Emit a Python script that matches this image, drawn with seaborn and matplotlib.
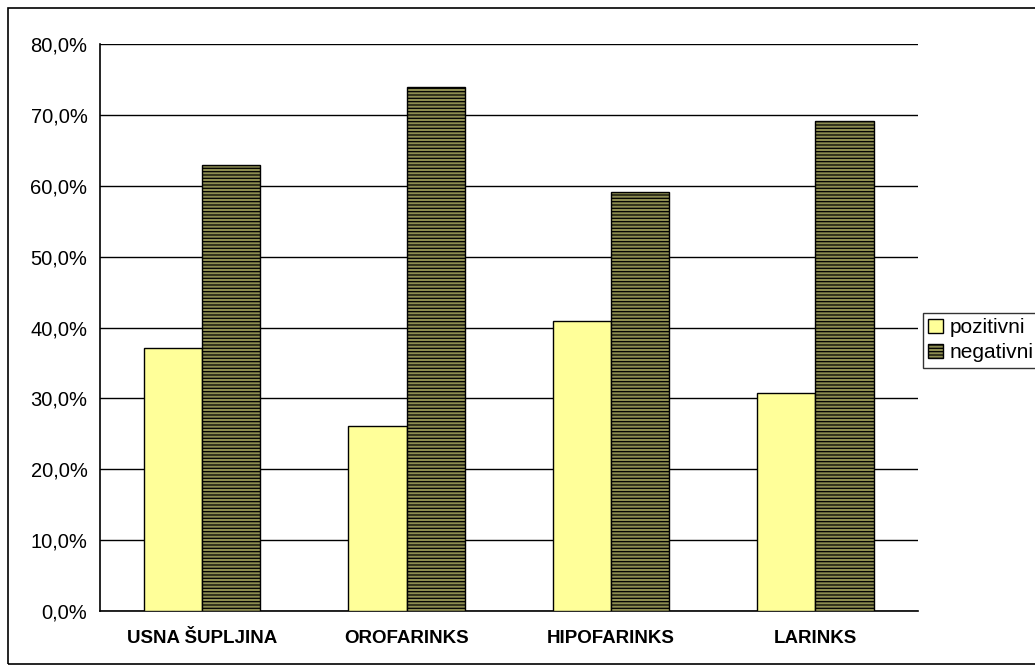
"""Pozitivni / negativni po lokalizaciji - bar chart."""
import pandas as pd
import seaborn as sns
import matplotlib.pyplot as plt
from matplotlib.patches import Rectangle, Patch
from matplotlib.ticker import FuncFormatter, FixedLocator

categories = ['USNA ŠUPLJINA', 'OROFARINKS', 'HIPOFARINKS', 'LARINKS']
series = ['pozitivni', 'negativni']
pozitivni = [37.1, 26.1, 40.9, 30.8]
negativni = [62.9, 73.9, 59.1, 69.2]

df = pd.DataFrame({
    'kategorija': categories * 2,
    'serija': [series[0]] * 4 + [series[1]] * 4,
    'vrijednost': pozitivni + negativni,
})

sns.set_style('white')
plt.rcParams['font.family'] = ['Liberation Sans', 'DejaVu Sans']
plt.rcParams['text.color'] = 'black'
plt.rcParams['xtick.color'] = 'black'
plt.rcParams['ytick.color'] = 'black'
plt.rcParams['hatch.linewidth'] = 0.9
plt.rcParams['hatch.color'] = 'black'

fig = plt.figure(figsize=(10.35, 6.7), dpi=100)
ax = fig.add_axes([0.0966, 0.088, 0.790, 0.846])

colors = {'pozitivni': '#FFFF99', 'negativni': '#8C8C50'}
sns.barplot(data=df, x='kategorija', y='vrijednost', hue='serija',
            palette=colors, width=0.57, edgecolor='black', linewidth=1.0,
            saturation=1, legend=False, ax=ax, zorder=3)

for bar in ax.containers[1]:
    bar.set_hatch('-----')

ax.set_ylim(0, 80)
ax.set_xlim(-0.5, 3.5)
ax.set_yticks(range(0, 81, 10))
ax.yaxis.set_major_formatter(FuncFormatter(lambda v, p: f'{v:.1f}%'.replace('.', ',')))
ax.grid(axis='y', color='black', linewidth=1.0, zorder=0)
ax.set_axisbelow(True)
ax.set_xlabel('')
ax.set_ylabel('')

# tick marks between categories
ax.xaxis.set_minor_locator(FixedLocator([0.5, 1.5, 2.5, 3.5]))
ax.tick_params(axis='x', which='major', length=0, pad=14, labelsize=13.5, labelcolor='black')
ax.tick_params(axis='x', which='minor', length=6, width=1, color='black', direction='out')
ax.tick_params(axis='y', length=6, width=1, color='black', direction='out',
               labelsize=14.5, pad=3, labelcolor='black')
for lbl in ax.get_xticklabels():
    lbl.set_fontweight('bold')

for s in ['top', 'right']:
    ax.spines[s].set_visible(False)
for s in ['left', 'bottom']:
    ax.spines[s].set_color('black')
    ax.spines[s].set_linewidth(1.2)

handles = [Patch(facecolor=colors['pozitivni'], edgecolor='black', label='pozitivni'),
           Patch(facecolor=colors['negativni'], edgecolor='black', hatch='-----', label='negativni')]
leg = fig.legend(handles=handles, loc='upper left', bbox_to_anchor=(0.892, 0.533),
                 fontsize=15, frameon=True, fancybox=False, edgecolor='black',
                 handlelength=0.7, handleheight=0.7, handletextpad=0.3,
                 borderpad=0.25, labelspacing=0.3, borderaxespad=0)
leg.get_frame().set_linewidth(1.0)

fig.patches.append(Rectangle((0.0077, 0.009), 1.1, 0.979, transform=fig.transFigure,
                             fill=False, edgecolor='black', linewidth=1.2))

fig.savefig('out.png', dpi=100)
